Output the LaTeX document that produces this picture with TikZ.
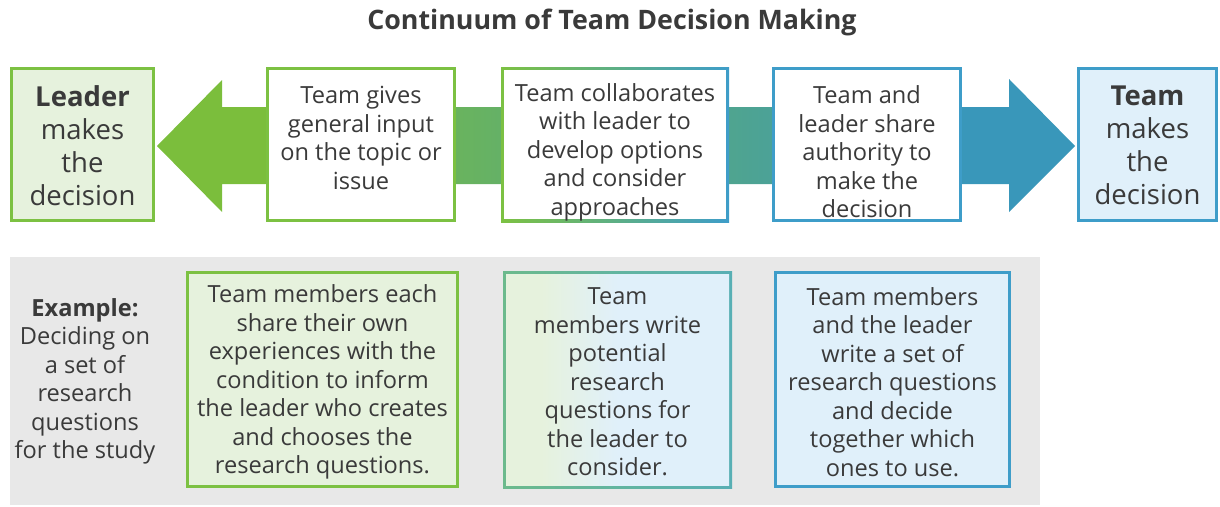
\documentclass[tikz,border=0pt]{standalone}
\usepackage{fontspec}
\setmainfont{Open Sans}
\definecolor{ink}{HTML}{3A3A3A}
\definecolor{lgreen}{HTML}{7CC142}
\definecolor{lblue}{HTML}{3E9DC9}
\definecolor{arrowgreen}{HTML}{7BBE3C}
\definecolor{arrowblue}{HTML}{3997BA}
\definecolor{palegreen}{HTML}{E6F2DD}
\definecolor{paleblue}{HTML}{E0F0FA}
\definecolor{panelgray}{HTML}{E8E8E8}
\definecolor{tealgreen}{HTML}{6CBA8C}
\definecolor{tealblue}{HTML}{58AFB4}
% solid green head, blend along the shaft, solid blue head
\pgfdeclarehorizontalshading{continuum}{100bp}{color(0bp)=(arrowgreen); color(31bp)=(arrowgreen); color(69bp)=(arrowblue); color(100bp)=(arrowblue)}
\pgfdeclarehorizontalshading{palemix}{100bp}{color(0bp)=(palegreen); color(33bp)=(palegreen); color(50bp)=(paleblue); color(100bp)=(paleblue)}
\tikzset{
  txt/.style={font=\fontsize{23.6}{28.5}\selectfont, text=ink, align=center, inner sep=0pt},
  bigtxt/.style={font=\fontsize{27.5}{33}\selectfont, text=ink, align=center, inner sep=0pt},
  frame/.style={draw, line width=3pt, inner sep=0pt},
  plain/.style={inner sep=0pt, outer sep=0pt},
}
\begin{document}
\begin{tikzpicture}[x=1pt, y=-1pt]
\useasboundingbox (0,0) rectangle (1220,506);

% title
\node[font=\fontsize{26.8}{30}\selectfont\bfseries, text=ink, inner sep=0pt] (title) at (612,22) {Continuum of Team Decision Making};

% double-headed continuum arrow
\path[shading=continuum]
  (157,146) -- (222,80) -- (222,107) -- (1009,107) -- (1009,79) -- (1075,146)
  -- (1009,212) -- (1009,184) -- (222,184) -- (222,212) -- cycle;

% end boxes
\node[frame, draw=lgreen, fill=palegreen, minimum width=142pt, minimum height=152pt] (lead) at (82.5,144.5) {};
\node[bigtxt] (leadtxt) at (82.5,145.5) {\textbf{Leader}\\makes\\the\\decision};
\node[frame, draw=lblue, fill=paleblue, minimum width=138pt, minimum height=152pt] (team) at (1147.5,144.5) {};
\node[bigtxt] (teamtxt) at (1147.5,145.5) {\textbf{Team}\\makes\\the\\decision};

% intermediate steps
\node[frame, draw=lgreen, fill=white, minimum width=187pt, minimum height=152pt] (b2) at (361,144.5) {};
\node[txt] (b2txt) at (361,138) {Team gives\\general input\\on the topic or\\issue};

\node[plain, left color=lgreen, right color=lblue, minimum width=228pt, minimum height=155pt] (b3) at (615,144.5) {};
\node[plain, fill=white, minimum width=222pt, minimum height=149pt] (b3in) at (b3) {};
\node[txt] (b3txt) at (615,152) {Team collaborates\\with leader to\\develop options\\and consider\\approaches};

\node[frame, draw=lblue, fill=white, minimum width=187pt, minimum height=152pt] (b4) at (867,144.5) {};
\node[txt] (b4txt) at (867,152) {Team and\\leader share\\authority to\\make the\\decision};

% example panel
\node[plain, fill=panelgray, minimum width=1030pt, minimum height=248pt] (panel) at (525,381) {};
\node[txt] (extxt) at (85,381.5) {\textbf{Example:}\\Deciding on\\a set of\\research\\questions\\for the study};

\node[frame, draw=lgreen, fill=palegreen, minimum width=270pt, minimum height=214pt] (e1) at (322.5,379.5) {};
\node[txt] (e1txt) at (322.5,382) {Team members each\\share their own\\experiences with the\\condition to inform\\the leader who creates\\and chooses the\\research questions.};

\node[plain, left color=tealgreen, right color=tealblue, minimum width=229pt, minimum height=217pt] (e2) at (617.5,379.5) {};
\node[plain, shading=palemix, minimum width=223pt, minimum height=211pt] (e2in) at (e2) {};
\node[txt] (e2txt) at (617.5,382) {Team\\members write\\potential\\research\\questions for\\the leader to\\consider.};

\node[frame, draw=lblue, fill=paleblue, minimum width=234pt, minimum height=214pt] (e3) at (892.5,379.5) {};
\node[txt] (e3txt) at (892.5,382) {Team members\\and the leader\\write a set of\\research questions\\and decide\\together which\\ones to use.};
\end{tikzpicture}
\end{document}
